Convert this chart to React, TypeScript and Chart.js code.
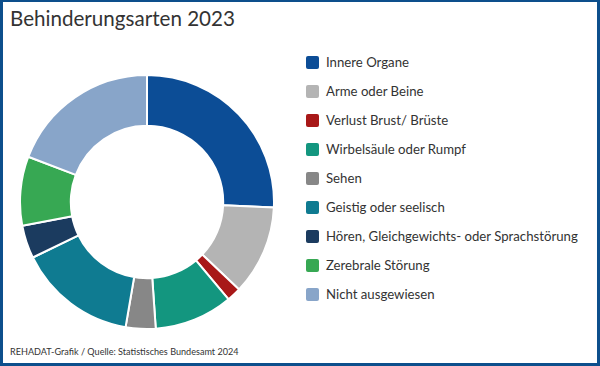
import React, { useEffect, useRef } from "react";
import { Chart, registerables } from "chart.js";

Chart.register(...registerables);

const title = "Behinderungsarten 2023";
const source = "REHADAT-Grafik / Quelle: Statistisches Bundesamt 2024";

const categories = [
  "Innere Organe",
  "Arme oder Beine",
  "Verlust Brust/ Brüste",
  "Wirbelsäule oder Rumpf",
  "Sehen",
  "Geistig oder seelisch",
  "Hören, Gleichgewichts- oder Sprachstörung",
  "Zerebrale Störung",
  "Nicht ausgewiesen",
];

const shares = [25.7, 11.4, 1.8, 10.0, 3.8, 15.1, 4.2, 8.8, 19.2];

const colors = [
  "#0c4d96",
  "#b4b4b4",
  "#a81818",
  "#13967f",
  "#878787",
  "#0f7b91",
  "#1b3b5f",
  "#37a853",
  "#88a5c9",
];

const FONT = "Lato, 'Noto Sans', sans-serif";

export default function App() {
  const canvasRef = useRef<HTMLCanvasElement | null>(null);

  useEffect(() => {
    document.body.style.margin = "0";
    const ctx = canvasRef.current;
    if (!ctx) return;
    const chart = new Chart(ctx, {
      type: "doughnut",
      data: {
        labels: categories,
        datasets: [
          {
            data: shares,
            backgroundColor: colors,
            borderColor: "#ffffff",
            borderWidth: 2,
          },
        ],
      },
      options: {
        animation: false,
        responsive: false,
        maintainAspectRatio: false,
        cutout: "60%",
        layout: { padding: 0 },
        plugins: {
          legend: { display: false },
          tooltip: { enabled: false },
          title: { display: false },
        },
      },
    });
    return () => chart.destroy();
  }, []);

  return (
    <div
      style={{
        position: "fixed",
        left: 0,
        top: 0,
        width: 600,
        height: 366,
        boxSizing: "border-box",
        borderStyle: "solid",
        borderColor: "#0d4f8c",
        borderWidth: "2px 3px 3px 3px",
        background: "#ffffff",
        fontFamily: FONT,
        color: "#333333",
        overflow: "hidden",
      }}
    >
      <div
        style={{
          position: "absolute",
          left: 7,
          top: 4,
          fontSize: 20.6,
          lineHeight: "25px",
          whiteSpace: "nowrap",
        }}
      >
        {title}
      </div>
      <canvas
        ref={canvasRef}
        width={256}
        height={256}
        style={{ position: "absolute", left: 16, top: 72, width: 256, height: 256 }}
      />
      <div style={{ position: "absolute", left: 303, top: 45.5 }}>
        {categories.map((c, i) => (
          <div
            key={c}
            style={{
              display: "flex",
              alignItems: "center",
              height: 29,
              fontSize: 13.2,
              whiteSpace: "nowrap",
            }}
          >
            <span
              style={{
                display: "inline-block",
                width: 13,
                height: 13,
                borderRadius: 2,
                background: colors[i],
                marginRight: 7,
              }}
            />
            <span>{c}</span>
          </div>
        ))}
      </div>
      <div
        style={{
          position: "absolute",
          left: 7,
          top: 344,
          fontSize: 9.1,
          lineHeight: "12px",
          whiteSpace: "nowrap",
        }}
      >
        {source}
      </div>
    </div>
  );
}
